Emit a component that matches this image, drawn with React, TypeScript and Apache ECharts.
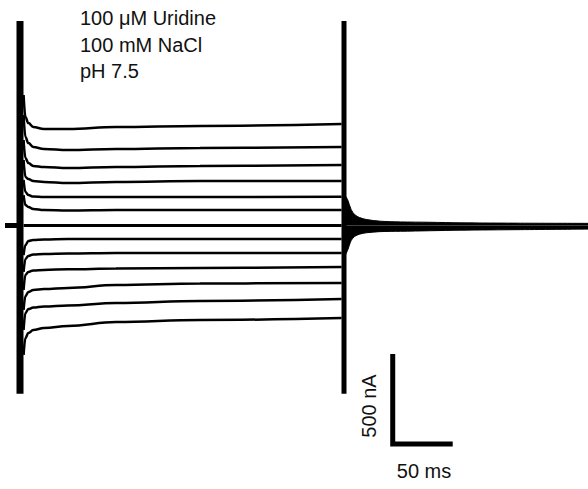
import React, { useEffect, useRef } from "react";
import * as echarts from "echarts";

// Time (ms) sample points for the step traces
const traceTimes = [3, 4.5, 7, 11, 20, 40, 80, 150, 268];

// Current (nA) of each trace at traceTimes
const upperTraces = [
  [725, 603, 569, 547, 536, 536, 547, 553, 564],
  [614, 492, 458, 436, 425, 419, 425, 431, 436],
  [475, 375, 347, 331, 325, 319, 325, 331, 336],
  [364, 270, 258, 247, 242, 236, 242, 247, 247],
  [253, 186, 169, 161, 158, 158, 158, 158, 160],
  [169, 114, 103, 92, 86, 83, 86, 86, 86],
];
const lowerTraces = [
  [-164, -108, -86, -81, -78, -75, -75, -75, -75],
  [-258, -186, -169, -161, -158, -156, -153, -153, -153],
  [-358, -275, -258, -250, -247, -243, -239, -236, -231],
  [-469, -392, -369, -358, -353, -347, -331, -322, -319],
  [-580, -486, -464, -456, -450, -444, -431, -419, -408],
  [-719, -625, -597, -581, -569, -558, -536, -525, -514],
];

// Tail after the step: envelope of the noisy trace
const tailTimes = [271, 273, 276, 279, 283, 289, 300, 317, 342, 367, 417, 474];
const tailUpper = [166, 144, 88, 60, 44, 33, 24, 20, 18, 15, 13, 12];
const tailLower = [-166, -138, -83, -60, -48, -40, -34, -32, -29, -26, -23, -20];

// Step timing and capacitive spikes
const stepStart = 0;
const stepEnd = 270;
const spikeTop = 1136;
const spikeBottom = -935;
const preBaselineStart = -12.5;

// Scale bar
const scaleBarOrigin = [310.6, -714];
const scaleBarCurrent = 500; // nA
const scaleBarTime = 50; // ms

const labels = ["100 μM Uridine", "100 mM NaCl", "pH 7.5"];

const FONT = "'Liberation Sans', Arial, Helvetica, sans-serif";

export default function App() {
  const ref = useRef<HTMLDivElement>(null);
  useEffect(() => {
    if (!ref.current) return;
    const chart = echarts.init(ref.current, undefined, { renderer: "svg" });
    const lineBase = {
      type: "line",
      symbol: "none",
      silent: true,
      animation: false,
    };
    const traceSeries: any[] = [...upperTraces, ...lowerTraces].map((vals) => ({
      ...lineBase,
      smooth: 0.4,
      smoothMonotone: "x",
      data: traceTimes.map((t, i) => [t, vals[i]]),
      lineStyle: { color: "#000", width: 2.5 },
    }));
    const series: any[] = [
      // pre-step baseline
      {
        ...lineBase,
        data: [
          [preBaselineStart, 0],
          [stepStart, 0],
        ],
        lineStyle: { color: "#000", width: 5 },
      },
      // zero-current trace during the step
      {
        ...lineBase,
        data: [
          [traceTimes[0], 0],
          [traceTimes[traceTimes.length - 1], 0],
        ],
        lineStyle: { color: "#000", width: 3 },
      },
      ...traceSeries,
      // onset spike
      {
        ...lineBase,
        data: [
          [stepStart, spikeTop],
          [stepStart, spikeBottom],
        ],
        lineStyle: { color: "#000", width: 7 },
      },
      // offset spike
      {
        ...lineBase,
        data: [
          [stepEnd, spikeTop],
          [stepEnd, spikeBottom],
        ],
        lineStyle: { color: "#000", width: 5 },
      },
      // tail envelope
      {
        ...lineBase,
        smooth: 0.3,
        data: tailTimes.map((t, i) => [t, tailUpper[i]]),
        lineStyle: { color: "#000", width: 1 },
        areaStyle: { color: "#000", opacity: 1 },
      },
      {
        ...lineBase,
        smooth: 0.3,
        data: tailTimes.map((t, i) => [t, tailLower[i]]),
        lineStyle: { color: "#000", width: 1 },
        areaStyle: { color: "#000", opacity: 1 },
      },
      // scale bar
      {
        ...lineBase,
        data: [
          [scaleBarOrigin[0], scaleBarOrigin[1]],
          [scaleBarOrigin[0], scaleBarOrigin[1] - scaleBarCurrent],
          [scaleBarOrigin[0] + scaleBarTime, scaleBarOrigin[1] - scaleBarCurrent],
        ],
        lineStyle: { color: "#000", width: 5, join: "miter", cap: "butt" },
      },
    ];

    chart.setOption({
      animation: false,
      backgroundColor: "#fff",
      grid: { left: 0, right: 0, top: 0, bottom: 0, containLabel: false },
      xAxis: { type: "value", min: -16.667, max: 473.333, show: false },
      yAxis: { type: "value", min: -1464, max: 1253, show: false },
      series,
      graphic: [
        ...labels.map((txt, i) => ({
          type: "text",
          x: 80,
          y: 18 + i * 26.7,
          style: {
            text: txt,
            fill: "#111",
            font: `20px ${FONT}`,
            align: "left",
            verticalAlign: "middle",
          },
        })),
        {
          type: "text",
          x: 424,
          y: 471,
          style: {
            text: `${scaleBarTime} ms`,
            fill: "#111",
            font: `20px ${FONT}`,
            align: "center",
            verticalAlign: "middle",
          },
        },
        {
          type: "text",
          x: 369,
          y: 406,
          rotation: Math.PI / 2,
          style: {
            text: `${scaleBarCurrent} nA`,
            fill: "#111",
            font: `20px ${FONT}`,
            align: "center",
            verticalAlign: "middle",
          },
        },
      ],
    });
    return () => chart.dispose();
  }, []);
  return (
    <div
      ref={ref}
      style={{ position: "fixed", left: 0, top: 0, width: 588, height: 489 }}
    />
  );
}
